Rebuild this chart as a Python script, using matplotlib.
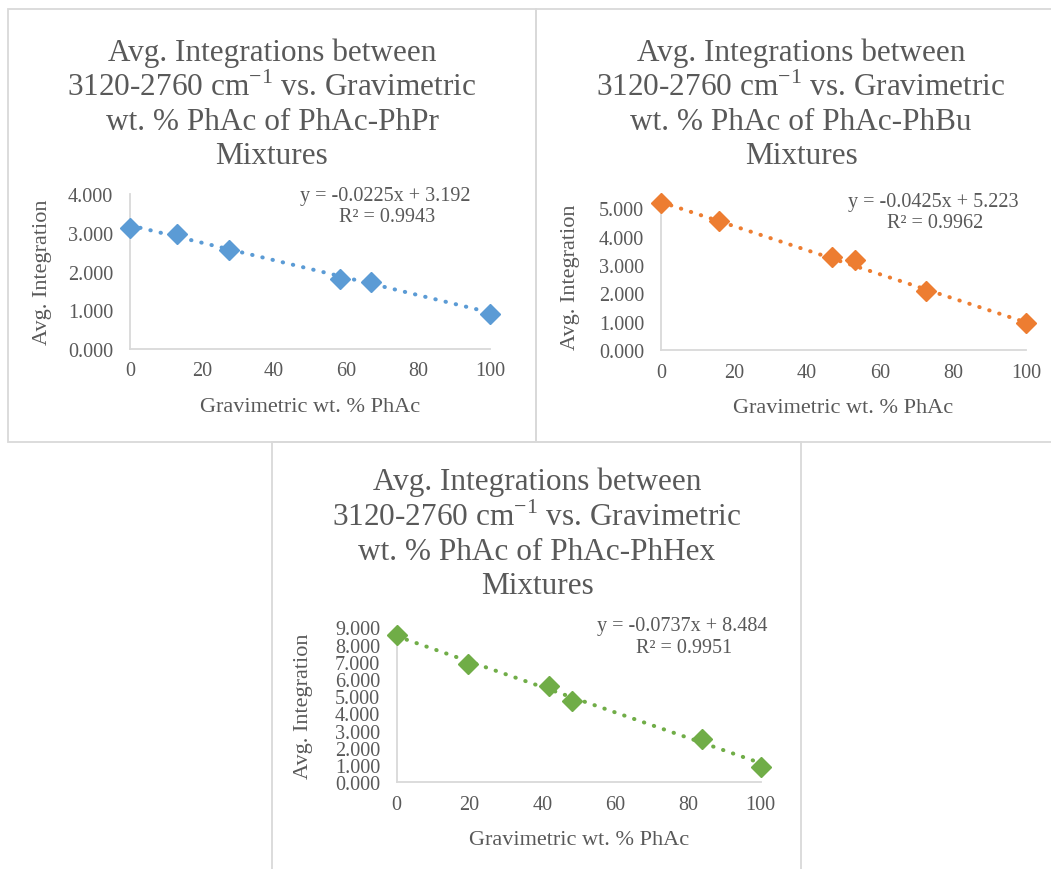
import matplotlib
matplotlib.use("Agg")
import numpy as np
import matplotlib.pyplot as plt
from matplotlib.patches import Rectangle
from matplotlib.ticker import FormatStrFormatter

plt.rcParams["font.family"] = ["Liberation Serif", "DejaVu Serif"]
plt.rcParams["mathtext.fontset"] = "custom"
plt.rcParams["mathtext.rm"] = "Liberation Serif"

# datos
x_phpr = [0, 13, 27.4, 58.3, 67, 100]
y_phpr = [3.11, 2.98, 2.55, 1.81, 1.72, 0.90]

x_phbu = [0, 15.8, 46.8, 53.2, 72.6, 100]
y_phbu = [5.18, 4.54, 3.27, 3.18, 2.07, 0.94]

x_phhex = [0, 19.6, 41.8, 48.2, 83.9, 100]
y_phhex = [8.55, 6.87, 5.57, 4.70, 2.50, 0.87]

# ecuaciones de las lineas de tendencia (tal como aparecen)
pendientes = [-0.0225, -0.0425, -0.0737]
intercepts = [3.192, 5.223, 8.484]
r2 = ["0.9943", "0.9962", "0.9951"]
mezclas = ["PhAc-PhPr", "PhAc-PhBu", "PhAc-PhHex"]
colores = ["#5B9BD5", "#ED7D31", "#70AD47"]

W, H = 1051, 870
GRIS = "#595959"
BORDE = "#d9d9d9"

fig = plt.figure(figsize=(W / 100, H / 100), dpi=100)


def px(x, y):
    return x / W, 1 - y / H


def caja(x0, y0, x1, y1):
    fig.add_artist(Rectangle(px(x0, y1), (x1 - x0) / W, (y1 - y0) / H,
                             transform=fig.transFigure, fill=False,
                             edgecolor=BORDE, lw=1.3))


caja(8, 10, 536, 443)
caja(536, 10, 1065, 443)
caja(272, 443, 801, 885)

# (izq, der, y0, y_por_unidad, ymax, ticks_max, centro_titulo, y_titulo, ylabel_dx, eq_xy)
paneles = [
    (130, 490, 350, 38.75, 4.0, 4, 272, 48, 78, (385, 196)),
    (661, 1026, 351, 28.33, 5.2, 5, 801, 48, 81, (933, 202)),
    (396.7, 760.7, 783.3, 17.22, 9.0, 9, 537, 478, 84, (682, 627)),
]
datos = [(x_phpr, y_phpr), (x_phbu, y_phbu), (x_phhex, y_phhex)]

for i, (xs, ys) in enumerate(datos):
    l, r, y0, ppu, ymax, tmax, tcx, ty, dx, (ex, ey) = paneles[i]
    top = y0 - ymax * ppu
    ax = fig.add_axes([l / W, 1 - y0 / H, (r - l) / W, (y0 - top) / H])
    ax.set_xlim(0, 100)
    ax.set_ylim(0, ymax)

    xt = np.array([0, 100])
    ax.plot(xt, pendientes[i] * xt + intercepts[i], color=colores[i], lw=2.9,
            linestyle=(0, (0.1, 2.5)), dash_capstyle="round", zorder=2,
            clip_on=False)
    ax.plot(xs, ys, linestyle="none", marker="D", ms=10, color=colores[i],
            zorder=3, clip_on=False)

    ax.set_xticks(range(0, 101, 20))
    ax.set_yticks(range(0, tmax + 1))
    ax.yaxis.set_major_formatter(FormatStrFormatter("%.3f"))
    ax.tick_params(length=0, labelsize=14.5, colors=GRIS)
    ax.tick_params(axis="x", pad=9)
    ax.tick_params(axis="y", pad=12)
    for s in ["top", "right"]:
        ax.spines[s].set_visible(False)
    for s in ["left", "bottom"]:
        ax.spines[s].set_color(BORDE)
        ax.spines[s].set_linewidth(1.3)
    ax.set_facecolor("none")

    ax.set_xlabel("Gravimetric wt. % PhAc", fontsize=16, color=GRIS, labelpad=12)
    ax.set_ylabel("Avg. Integration", fontsize=16, color=GRIS)
    ax.yaxis.set_label_coords(-dx / (r - l), 0.5)

    titulo = ("Avg. Integrations between\n"
              "3120-2760 cm$^{\\mathrm{-1}}$ vs. Gravimetric\n"
              f"wt. % PhAc of {mezclas[i]}\n"
              "Mixtures")
    fig.text(*px(tcx, ty - 10), titulo, ha="center", va="top", fontsize=22.5,
             color=GRIS, linespacing=1.22)

    fig.text(*px(ex, ey), f"y = {pendientes[i]}x + {intercepts[i]}",
             ha="center", va="center", fontsize=14.5, color=GRIS)
    fig.text(*px(ex + 2, ey + 22), f"R² = {r2[i]}",
             ha="center", va="center", fontsize=14.5, color=GRIS)

fig.savefig("out.png", dpi=100, facecolor="white")
